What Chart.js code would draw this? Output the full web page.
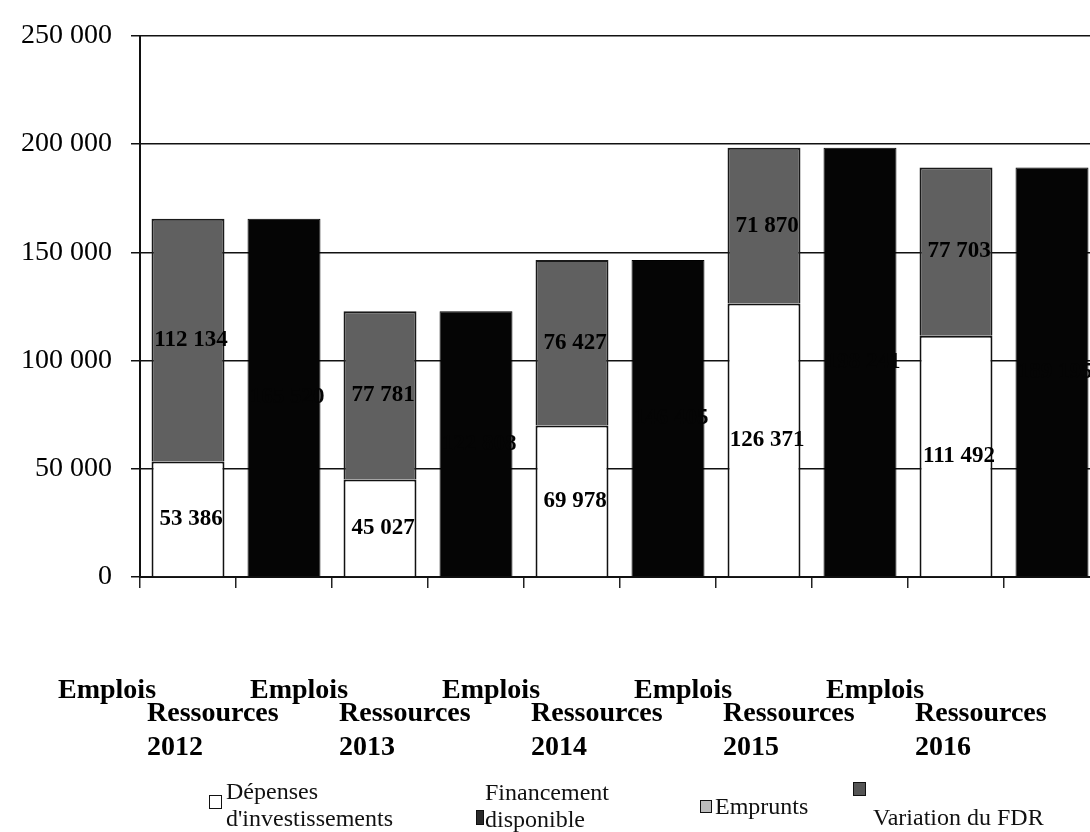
<!DOCTYPE html>
<html>
<head>
<meta charset="utf-8">
<script src="https://cdn.jsdelivr.net/npm/chart.js@4.4.1/dist/chart.umd.min.js"></script>
<style>
  html, body { margin: 0; padding: 0; background: #fff; overflow: hidden; }
  #wrap { position: relative; width: 1090px; height: 832px; overflow: hidden; }
  #chart { position: absolute; left: 0; top: 0; }
  .leg { position: absolute; font-family: "Liberation Serif", serif; font-size: 24px; line-height: 27px; color: #111; white-space: nowrap; }
  .box { position: absolute; border: 1.5px solid #111; box-sizing: border-box; }
</style>
</head>
<body>
<div id="wrap">
  <canvas id="chart" width="1100" height="832"></canvas>

  <!-- legend -->
  <div class="box" style="left:209px;top:795px;width:13px;height:14px;background:#fff;"></div>
  <div class="leg" style="left:226px;top:778px;">Dépenses<br>d'investissements</div>

  <div class="box" style="left:476px;top:810px;width:8px;height:15px;background:#2a2a2a;"></div>
  <div class="leg" style="left:485px;top:779px;">Financement<br>disponible</div>

  <div class="box" style="left:700px;top:800px;width:12px;height:13px;background:#bdbdbd;"></div>
  <div class="leg" style="left:715px;top:793px;">Emprunts</div>

  <div class="box" style="left:853px;top:782px;width:13px;height:14px;background:#555;"></div>
  <div class="leg" style="left:873px;top:804px;">Variation du FDR</div>
</div>

<script>
// values per year
const years = ['2012', '2013', '2014', '2015', '2016'];
const depenses = [53386, 45027, 69978, 126371, 111492];
const variationFdr = [112134, 77781, 76427, 71870, 77703];
const financement = [165520, 122808, 146405, 198241, 189195];
const emprunts = [0, 0, 0, 0, 0];
const yTicks = [0, 50000, 100000, 150000, 200000, 250000];

// each year has an "Emplois" bar then a "Ressources" bar
const labels = [];
years.forEach(y => { labels.push('Emplois ' + y, 'Ressources ' + y); });

const onEmplois = arr => arr.flatMap(v => [v, null]);
const onRessources = arr => arr.flatMap(v => [null, v]);

const fmt = v => String(Math.round(v)).replace(/\B(?=(\d{3})+(?!\d))/g, ' ');

const serif = '"Liberation Serif", "Times New Roman", serif';

// value labels centred in each segment (same ink as the bar on the black ones)
const segmentLabels = {
  id: 'segmentLabels',
  afterDatasetsDraw(chart) {
    const ctx = chart.ctx;
    ctx.save();
    ctx.font = 'bold 23px ' + serif;
    ctx.textAlign = 'center';
    ctx.textBaseline = 'middle';
    chart.data.datasets.forEach((ds, i) => {
      const meta = chart.getDatasetMeta(i);
      ctx.fillStyle = ds.labelColor || '#000';
      meta.data.forEach((bar, j) => {
        const v = ds.data[j];
        if (!v) return;
        ctx.fillText(fmt(v), bar.x + 3, (bar.y + bar.base) / 2);
      });
    });
    ctx.restore();
  }
};

new Chart(document.getElementById('chart'), {
  type: 'bar',
  data: {
    labels: labels,
    datasets: [
      {
        label: "Dépenses d'investissements",
        data: onEmplois(depenses),
        backgroundColor: '#ffffff',
        borderColor: '#111',
        borderWidth: 2
      },
      {
        label: 'Financement disponible',
        data: onRessources(financement),
        backgroundColor: '#050505',
        borderColor: '#000',
        borderWidth: 1,
        labelColor: '#050505'
      },
      {
        label: 'Emprunts',
        data: onRessources(emprunts),
        backgroundColor: '#bdbdbd',
        borderColor: '#111',
        borderWidth: 0
      },
      {
        label: 'Variation du FDR',
        data: onEmplois(variationFdr),
        backgroundColor: '#606060',
        borderColor: '#1a1a1a',
        borderWidth: 2
      }
    ]
  },
  options: {
    responsive: false,
    animation: false,
    layout: { padding: { top: 24, left: 0, right: 0, bottom: 0 } },
    datasets: {
      bar: { categoryPercentage: 1, barPercentage: 0.76, grouped: false }
    },
    plugins: {
      legend: { display: false },
      tooltip: { enabled: false }
    },
    scales: {
      x: {
        stacked: true,
        afterFit: scale => {
          scale.height = 255;
          scale.paddingLeft = 0;
          scale.paddingRight = 0;
        },
        grid: {
          offset: true,
          drawOnChartArea: false,
          drawTicks: true,
          tickLength: 11,
          color: '#222',
          lineWidth: 1.5
        },
        border: { display: true, color: '#111', width: 2 },
        ticks: {
          autoSkip: false,
          maxRotation: 0,
          minRotation: 0,
          align: 'start',
          padding: 97,
          color: '#000',
          font: { family: serif, size: 28, weight: 'bold', lineHeight: '11.5px' },
          labelOffset: -137,
          callback: (value, index) => {
            const year = years[Math.floor(index / 2)];
            return index % 2 === 0 ? [' Emplois'] : ['', '', 'Ressources', '', '', year];
          }
        }
      },
      y: {
        stacked: true,
        min: 0,
        max: 250000,
        afterFit: scale => { scale.width = 140; },
        afterBuildTicks: scale => { scale.ticks = yTicks.map(v => ({ value: v })); },
        grid: {
          color: '#111',
          lineWidth: 1.5,
          tickLength: 9
        },
        border: { display: true, color: '#111', width: 2 },
        ticks: {
          padding: 19,
          color: '#000',
          font: { family: serif, size: 28 },
          callback: v => fmt(v)
        }
      }
    }
  },
  plugins: [segmentLabels]
});
</script>
</body>
</html>
